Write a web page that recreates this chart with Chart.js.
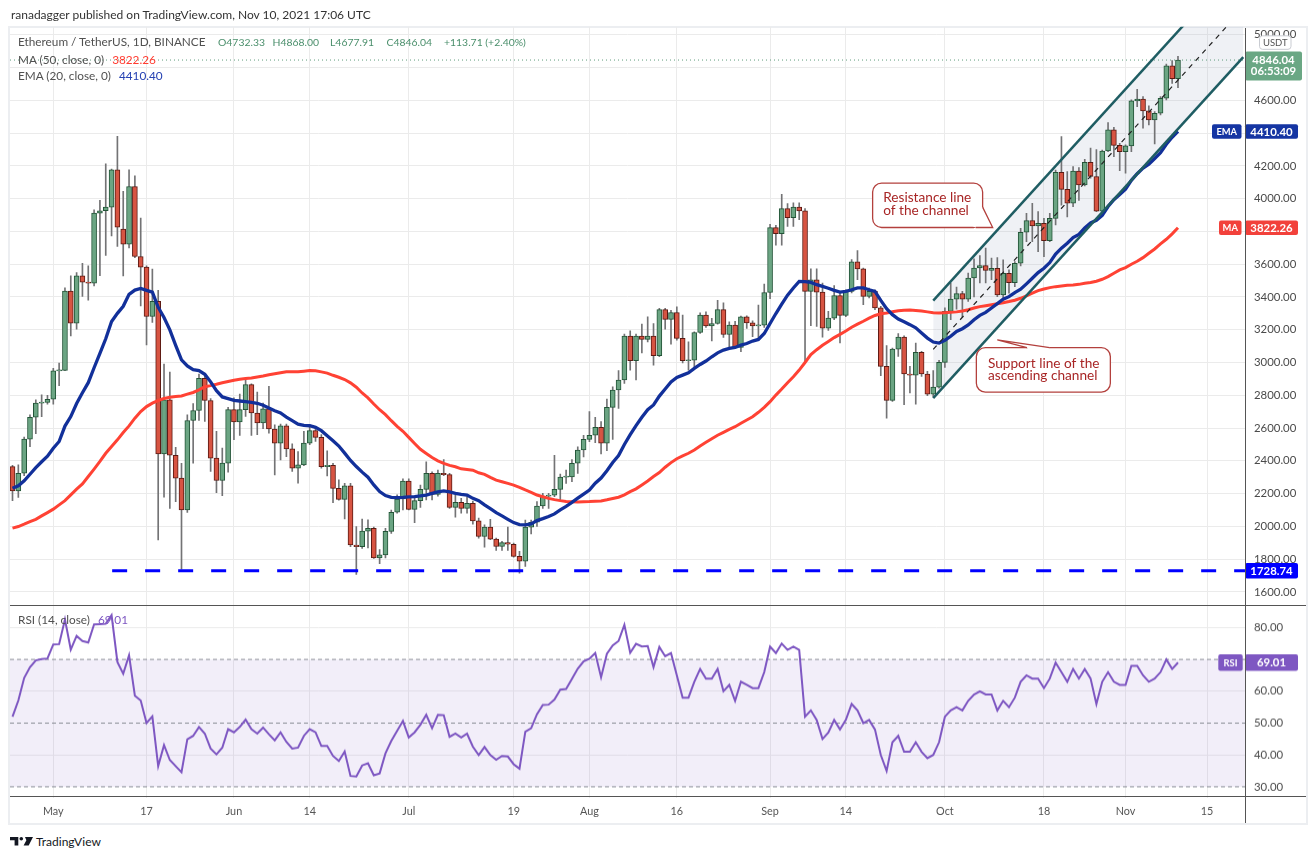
<!DOCTYPE html>
<html lang="en">
<head>
<meta charset="utf-8">
<title>Ethereum / TetherUS, 1D, BINANCE</title>
<script src="https://cdn.jsdelivr.net/npm/chart.js@4.4.1/dist/chart.umd.min.js"></script>
<style>
  html, body { margin:0; padding:0; background:#fff; }
  body { width:1316px; height:860px; position:relative; overflow:hidden; font-family: Lato, "Open Sans", sans-serif; }
  #frame { position:absolute; left:8px; top:26px; width:1300px; height:799px; box-sizing:border-box; border:2px solid #eceef1; }
  #priceBox { position:absolute; left:0; top:17px; width:1316px; height:599px; z-index:1; }
  #rsiBox { position:absolute; left:0; top:596px; width:1316px; height:228px; z-index:1; }
  .sep { position:absolute; background:#555; z-index:2; }
  .txt { position:absolute; white-space:nowrap; z-index:3; line-height:16px; height:16px; }
  .leg { color:#505050; font-size:13px; }
  .ohlc { color:#4b8f6c; }
</style>
</head>
<body>
<div id="frame"></div>
<div id="header" class="txt" style="left:11px;top:7px;color:#333;font-size:13px;">ranadagger published on TradingView.com, Nov 10, 2021 17:06 UTC</div>

<div id="priceBox"><canvas id="priceChart"></canvas></div>
<div id="rsiBox"><canvas id="rsiChart"></canvas></div>

<div class="sep" style="left:10px;top:605px;width:1296px;height:1px;"></div>
<div class="sep" style="left:10px;top:796px;width:1296px;height:1px;"></div>
<div class="sep" style="left:1244.5px;top:28px;width:1px;height:795px;"></div>

<div id="lg0" class="txt leg" style="left:18px;top:34px;">Ethereum / TetherUS, 1D, BINANCE</div>
<div id="lgO" class="txt leg ohlc" style="left:218px;top:34px;">O4732.33</div>
<div class="txt leg ohlc" style="left:272.5px;top:34px;">H4868.00</div>
<div class="txt leg ohlc" style="left:330px;top:34px;">L4677.91</div>
<div class="txt leg ohlc" style="left:386.5px;top:34px;">C4846.04</div>
<div class="txt leg ohlc" style="left:444px;top:34px;">+113.71 (+2.40%)</div>
<div class="txt leg" style="left:18px;top:52px;">MA (50, close, 0)<span style="color:#ff3b30;margin-left:8px;">3822.26</span></div>
<div class="txt leg" style="left:18px;top:68px;">EMA (20, close, 0)<span style="color:#2541b2;margin-left:8px;">4410.40</span></div>
<div class="txt leg" style="left:18px;top:612px;">RSI (14, close)<span style="color:#7e57c2;margin-left:8px;">69.01</span></div>

<svg style="position:absolute;left:10px;top:837px;" width="24" height="9" viewBox="0 0 24 9">
  <path d="M0 0H8.3V8.6H4.6V3.3H0Z" fill="#131722"/>
  <circle cx="11.3" cy="1.8" r="1.8" fill="#131722"/>
  <path d="M15 0H23L18.7 8.6H13.6L16.4 3.3Z" fill="#131722"/>
</svg>
<div id="tvText" class="txt" style="left:36px;top:834px;font-size:15px;color:#131722;">TradingView</div>

<script>
// ---------------- data ----------------
const startDate = '2021-04-24';   // first candle, daily bars through 2021-11-10

const opens = [
  2365,2216,2324,2532,2666,2752,2756,2776,2949,2952,
  3436,3240,3529,3490,3484,3912,3926,3948,4176,3814,
  3722,4074,3647,3582,3281,3373,2442,2772,2434,2294,
  2101,2646,2707,2904,2768,2416,2280,2386,2712,2637,
  2712,2865,2692,2631,2718,2594,2508,2614,2473,2355,
  2375,2508,2584,2543,2365,2373,2232,2165,2247,1886,
  1876,1971,1988,1808,1826,1969,2086,2167,2277,2104,
  2157,2226,2323,2195,2323,2316,2116,2147,2110,2141,
  2033,1938,1995,1922,1877,1901,1891,1817,1787,1995,
  2025,2124,2185,2190,2226,2300,2302,2385,2466,2531,
  2556,2604,2507,2726,2832,2893,3161,3011,3161,3141,
  3161,3041,3323,3263,3305,3147,3011,3015,3183,3289,
  3224,3238,3323,3171,3228,3092,3279,3242,3224,3228,
  3427,3823,3787,3939,3884,3949,3925,3434,3505,3430,
  3210,3271,3408,3288,3434,3615,3571,3404,3434,3333,
  2976,2769,3082,3155,2930,2922,3062,2930,2807,2850,
  3001,3312,3387,3420,3387,3516,3577,3591,3562,3575,
  3412,3545,3488,3606,3795,3866,3834,3850,3744,3880,
  4161,4057,3972,4169,4084,4222,4135,3924,4291,4420,
  4325,4287,4322,4597,4607,4536,4481,4521,4613,4810,
  4732.33
];
const highs = [
  2372,2375,2545,2680,2772,2802,2800,2965,2996,3456,
  3529,3549,3606,3590,3932,3990,4213,4180,4380,4044,
  4176,4140,3881,3590,3570,3440,2990,2941,2483,2385,
  2680,2750,2930,2930,2780,2580,2478,2727,2784,2808,
  2896,2870,2820,2753,2855,2620,2624,2624,2504,2457,
  2580,2620,2610,2560,2461,2385,2284,2263,2263,1998,
  2045,2040,1996,1859,1988,2100,2192,2290,2290,2181,
  2252,2394,2333,2343,2408,2323,2190,2171,2181,2155,
  2050,2009,2043,1928,1908,1995,1898,1847,2039,2039,
  2151,2201,2201,2434,2319,2343,2408,2485,2556,2700,
  2665,2639,2777,2852,2950,3173,3193,3173,3234,3279,
  3238,3330,3330,3319,3340,3289,3126,3187,3303,3309,
  3269,3380,3364,3248,3252,3283,3285,3254,3350,3478,
  3844,3837,4026,3970,3974,3974,3939,3571,3571,3485,
  3312,3469,3434,3444,3628,3683,3577,3455,3444,3343,
  3103,3088,3176,3163,2976,3119,3068,2946,2950,3013,
  3333,3485,3461,3434,3546,3632,3652,3699,3638,3640,
  3626,3565,3616,3819,3911,3972,3921,3880,3911,4175,
  4379,4165,4196,4190,4240,4308,4300,4297,4464,4436,
  4338,4328,4603,4668,4623,4566,4531,4623,4822,4843,
  4868.00
];
const lows = [
  2157,2176,2310,2487,2565,2670,2745,2745,2858,2950,
  3163,3203,3403,3380,3467,3530,3653,3773,3708,3529,
  3700,3640,3346,3108,3244,1917,2178,2110,2151,1738,
  2085,2385,2646,2640,2335,2206,2188,2331,2529,2555,
  2671,2555,2559,2596,2569,2314,2406,2426,2335,2263,
  2370,2498,2518,2355,2308,2145,2160,2045,1876,1706,
  1865,1868,1804,1773,1808,1957,2080,2100,2100,2023,
  2116,2161,2161,2185,2310,2110,2056,2080,2080,2013,
  1928,1873,1918,1853,1853,1853,1812,1715,1756,1954,
  1999,2110,2110,2181,2157,2262,2272,2323,2424,2517,
  2511,2442,2462,2530,2720,2873,2954,2893,3059,3126,
  2984,3035,3204,3112,3137,2998,2954,2974,3177,3214,
  3132,3234,3153,3092,3086,3066,3208,3157,3147,3214,
  3390,3716,3716,3831,3831,3872,3010,3225,3221,3155,
  3196,3261,3119,3280,3424,3505,3353,3394,3322,2919,
  2661,2763,3037,2742,2814,2745,2915,2797,2790,2844,
  2970,3261,3326,3278,3373,3400,3485,3485,3505,3402,
  3392,3423,3463,3589,3738,3738,3677,3646,3738,3840,
  3960,3889,3951,3990,4078,4125,3920,3911,4287,4257,
  4171,4155,4287,4562,4430,4450,4334,4511,4603,4704,
  4677.91
];
const closes = [
  2216,2324,2532,2666,2752,2756,2776,2949,2952,3436,
  3240,3529,3490,3484,3912,3926,3948,4176,3826,3722,
  4074,3647,3582,3281,3373,2442,2772,2434,2294,2101,
  2646,2707,2904,2768,2416,2280,2386,2712,2637,2712,
  2865,2692,2631,2718,2594,2508,2614,2473,2355,2375,
  2508,2584,2543,2365,2373,2232,2165,2247,1886,1876,
  1971,1988,1808,1826,1969,2086,2167,2277,2104,2157,
  2226,2323,2195,2323,2316,2116,2147,2110,2141,2033,
  1938,1995,1922,1877,1901,1891,1817,1787,1995,2025,
  2124,2185,2190,2226,2300,2302,2385,2466,2531,2556,
  2604,2507,2726,2832,2893,3161,3011,3161,3141,3161,
  3041,3323,3263,3305,3147,3011,3015,3183,3289,3224,
  3238,3323,3171,3228,3092,3279,3242,3224,3228,3427,
  3823,3787,3939,3884,3949,3925,3434,3505,3430,3210,
  3271,3408,3288,3434,3615,3571,3404,3434,3333,2976,
  2769,3082,3155,2930,2922,3062,2930,2807,2850,3001,
  3312,3387,3420,3387,3516,3577,3591,3562,3575,3412,
  3545,3488,3606,3795,3866,3834,3850,3744,3880,4161,
  4057,3972,4169,4084,4222,4135,3924,4291,4420,4325,
  4287,4322,4597,4607,4536,4481,4521,4613,4810,4732.33,
  4846.04
];
const ma50 = [
  1989,1999,2013,2029,2043,2064,2084,2105,2131,2157,
  2192,2227,2259,2304,2349,2396,2446,2487,2528,2573,
  2613,2660,2701,2731,2752,2768,2780,2788,2792,2796,
  2807,2817,2833,2852,2859,2867,2876,2884,2892,2898,
  2902,2906,2912,2918,2925,2931,2937,2943,2943,2943,
  2947,2951,2949,2943,2935,2922,2910,2896,2876,2849,
  2814,2784,2747,2712,2682,2645,2610,2580,2543,2506,
  2470,2445,2420,2400,2384,2372,2364,2351,2347,2343,
  2327,2317,2299,2282,2272,2262,2252,2238,2222,2208,
  2191,2181,2171,2163,2157,2152,2150,2149,2150,2151,
  2153,2155,2162,2170,2178,2192,2212,2229,2253,2277,
  2304,2328,2361,2389,2413,2430,2446,2466,2491,2513,
  2535,2556,2574,2592,2608,2629,2649,2669,2696,2726,
  2761,2801,2838,2877,2913,2954,3000,3048,3078,3105,
  3128,3152,3172,3192,3215,3234,3252,3271,3287,3297,
  3302,3310,3316,3319,3320,3318,3314,3309,3304,3302,
  3304,3306,3309,3314,3322,3333,3341,3347,3353,3359,
  3365,3372,3380,3392,3406,3423,3439,3449,3457,3463,
  3467,3471,3473,3477,3484,3488,3496,3508,3524,3545,
  3565,3579,3600,3618,3640,3667,3693,3724,3752,3785,
  3822.26
];
const ema20 = [
  2233,2248,2278,2318,2358,2394,2428,2477,2518,2612,
  2670,2750,2815,2877,2968,3055,3145,3250,3300,3343,
  3416,3442,3452,3440,3430,3337,3275,3199,3105,3016,
  2979,2957,2951,2928,2882,2828,2790,2780,2769,2765,
  2761,2757,2751,2739,2722,2706,2692,2667,2645,2624,
  2616,2614,2604,2584,2553,2522,2490,2447,2402,2365,
  2331,2300,2253,2212,2188,2177,2175,2177,2180,2182,
  2186,2191,2201,2210,2216,2210,2201,2195,2191,2171,
  2157,2131,2108,2084,2064,2043,2023,2011,2009,2015,
  2035,2047,2060,2076,2101,2122,2146,2172,2197,2222,
  2263,2295,2340,2390,2432,2500,2560,2615,2666,2712,
  2741,2795,2838,2881,2909,2923,2937,2964,2988,3009,
  3035,3059,3076,3086,3092,3106,3116,3131,3141,3177,
  3238,3299,3356,3411,3455,3495,3494,3489,3475,3465,
  3453,3440,3430,3434,3444,3455,3455,3444,3434,3379,
  3328,3292,3265,3249,3231,3212,3180,3149,3125,3119,
  3135,3160,3190,3206,3229,3261,3288,3306,3333,3359,
  3386,3402,3427,3447,3480,3514,3549,3575,3610,3662,
  3698,3728,3762,3782,3822,3852,3868,3898,3952,3994,
  4025,4058,4112,4152,4186,4210,4245,4280,4332,4375,
  4410.40
];
const rsi14 = [
  52.0,57.1,64.2,67.6,69.7,70.1,70.3,74.7,74.8,82.6,
  73.1,77.4,75.8,75.3,81.0,81.1,81.2,83.9,69.2,65.5,
  71.3,58.6,57.1,50.0,52.1,36.5,43.1,38.4,36.5,34.6,
  44.9,46.0,48.8,46.7,42.0,40.2,42.3,48.1,47.1,48.8,
  51.1,48.1,46.7,48.6,46.5,44.6,47.1,44.1,42.0,42.3,
  46.0,48.1,47.1,42.8,42.8,39.7,38.1,41.1,33.4,33.2,
  36.7,37.4,33.6,34.2,40.5,44.4,47.6,50.7,45.5,47.1,
  49.5,52.6,48.4,52.6,52.5,45.7,46.7,45.5,46.7,42.6,
  40.0,42.5,40.0,38.5,39.7,39.5,37.1,35.7,47.3,48.4,
  52.8,55.7,55.8,57.4,60.5,60.7,63.9,67.1,69.4,70.2,
  72.0,64.4,71.8,74.4,75.8,80.9,72.1,74.9,74.1,74.2,
  67.6,73.9,71.0,72.0,65.0,58.0,58.0,63.0,67.0,64.0,
  64.0,67.0,60.0,62.0,57.0,63.0,62.0,61.0,61.0,66.0,
  74.0,72.0,75.0,73.0,74.0,73.0,52.0,54.0,51.0,45.0,
  47.0,51.0,48.0,51.0,56.0,54.0,50.0,51.0,48.0,40.0,
  35.0,44.0,46.0,41.0,41.0,44.0,41.0,39.0,40.0,44.0,
  52.0,54.0,55.0,54.0,57.0,59.0,60.0,59.0,59.0,54.0,
  57.0,55.0,58.0,63.0,65.0,64.0,64.0,61.0,64.0,69.0,
  66.0,63.0,67.0,64.0,67.0,64.0,56.0,63.0,66.0,63.0,
  62.0,62.0,68.0,68.0,65.0,63.0,64.0,66.0,70.0,67.0,
  69.01
];

const xTickDays   = [7, 23, 38, 51, 68, 86, 99, 114, 130, 143, 160, 177, 191, 205];
const xTickLabels = ['May','17','Jun','14','Jul','19','Aug','16','Sep','14','Oct','18','Nov','15'];
const priceTicks  = [1600,1800,2000,2200,2400,2600,2800,3000,3200,3400,3600,3800,4000,4200,4400,4600,4800,5000];
const rsiTicks    = [30,40,50,60,70,80];
const rsiBands    = [70,50,30];

const supportLevel = 1728.74;
const supportFrom  = 17.1;      // day index where the drawn level starts
const lastClose    = 4846.04;
const countdown    = '06:53:09';
const maLast = 3822.26, emaLast = 4410.40, rsiLast = 69.01;

// ascending channel drawing (day index, price)
const channelLower = [{x:158, y:2783}, {x:211.2, y:4864}];
const channelUpper = [{x:158, y:3378}, {x:211.2, y:5459}];
const channelMid   = [{x:158, y:3080.5}, {x:211.2, y:5161.5}];

// ---------------- styling / layout ----------------
const X_MIN = -0.43, X_MAX = 211.5;
const UP = '#6ba583', DOWN = '#d75442', UP_B = '#225437', DOWN_B = '#5b1a13', WICK = '#737375';
const GRID = '#ebebeb';
const FONT = 'Lato';
const NOTE_LINE = '#b3403d', NOTE_TEXT = '#a82626';
const PRICE_PANE = { top: 27, bottom: 605.7, refVal: 1800, refPx: 559.3, pxPerUnit: 0.16385 };
const RSI_PANE   = { top: 605.7, bottom: 796.7, refVal: 80, refPx: 627.3, pxPerUnit: 3.17 };

const resistanceNote = { lines:['Resistance line','of the channel'], anchor:[147.6, 4095], w:110, h:44.4,
  tip:[168.2, 3824], base:[[110, 24], [103, 44.4]], textX:10.6, lineY:[15, 27.4] };
const supportNote = { lines:['Support line of the','ascending channel'], anchor:[165.4, 3091], w:134, h:44.6,
  tip:[169.0, 3138], base:[[50.6, 0], [73.3, 0]], textX:11.6, lineY:[15.6, 28.3] };

Chart.defaults.font.family = FONT;

function fitPx(text, target, weight) {
  const c = document.createElement('canvas').getContext('2d');
  c.font = (weight || 'normal') + ' 100px ' + FONT;
  const v = 100 * target / c.measureText(text).width;
  return Math.max(8, Math.min(18, +v.toFixed(2)));
}
const tickPx  = fitPx('4600.00', 42.3);
const xTickPx = fitPx('May', 20.7);
const boxPx   = fitPx('4410.40', 42.3, 'bold');
const tagPx   = fitPx('EMA', 20.7, 'bold');
const usdtPx  = fitPx('USDT', 24.7);
const notePx  = fitPx('Support line of the', 111.7);

function fitEl(el, target) {
  const w = el.getBoundingClientRect().width;
  const fs = parseFloat(getComputedStyle(el).fontSize);
  const n = fs * target / w;
  el.style.fontSize = n + 'px';
  return n;
}
fitEl(document.getElementById('header'), 360);
const legPx = fitEl(document.getElementById('lg0'), 187.7);
document.querySelectorAll('.leg').forEach(e => { e.style.fontSize = legPx + 'px'; });
const ohlcPx = fitEl(document.getElementById('lgO'), 47);
document.querySelectorAll('.ohlc').forEach(e => { e.style.fontSize = ohlcPx + 'px'; });
fitEl(document.getElementById('tvText'), 65);

function rr(ctx, x, y, w, h, r) {
  ctx.beginPath();
  ctx.moveTo(x + r, y);
  ctx.arcTo(x + w, y, x + w, y + h, r);
  ctx.arcTo(x + w, y + h, x, y + h, r);
  ctx.arcTo(x, y + h, x, y, r);
  ctx.arcTo(x, y, x + w, y, r);
  ctx.closePath();
}
function drawCallout(ctx, xs, ys, n) {
  const bx = xs.getPixelForValue(n.anchor[0]), by = ys.getPixelForValue(n.anchor[1]);
  const tx = xs.getPixelForValue(n.tip[0]), ty = ys.getPixelForValue(n.tip[1]);
  const b1 = [bx + n.base[0][0], by + n.base[0][1]], b2 = [bx + n.base[1][0], by + n.base[1][1]];
  ctx.save();
  ctx.lineWidth = 1.3; ctx.strokeStyle = NOTE_LINE; ctx.fillStyle = '#fff';
  rr(ctx, bx, by, n.w, n.h, 9); ctx.fill(); ctx.stroke();
  ctx.beginPath();
  ctx.moveTo(b1[0], b1[1]); ctx.lineTo(tx, ty); ctx.lineTo(b2[0], b2[1]);
  ctx.lineTo(bx + n.w / 2, by + n.h / 2); ctx.closePath(); ctx.fill();
  ctx.beginPath();
  ctx.moveTo(b1[0], b1[1]); ctx.lineTo(tx, ty); ctx.lineTo(b2[0], b2[1]); ctx.stroke();
  ctx.fillStyle = NOTE_TEXT; ctx.font = notePx + 'px ' + FONT;
  ctx.textAlign = 'left'; ctx.textBaseline = 'middle';
  n.lines.forEach((t, i) => ctx.fillText(t, bx + n.textX, by + n.lineY[i]));
  ctx.restore();
}
function tag(ctx, x0, yc, w, h, fill, text, px) {
  ctx.fillStyle = fill;
  rr(ctx, x0, yc - h / 2, w, h, 2); ctx.fill();
  ctx.fillStyle = '#fff'; ctx.font = 'bold ' + px + 'px ' + FONT;
  ctx.textAlign = 'center'; ctx.textBaseline = 'middle';
  ctx.fillText(text, x0 + w / 2, yc + 0.5);
}

const priceOverlay = {
  id: 'priceOverlay',
  afterDraw(chart) {
    const { ctx, chartArea: a, scales: { x, y } } = chart;
    ctx.save();
    drawCallout(ctx, x, y, resistanceNote);
    drawCallout(ctx, x, y, supportNote);
    const R = a.right;
    const yp = y.getPixelForValue(lastClose);
    ctx.fillStyle = '#6aa784';
    rr(ctx, R, yp - 8.5, 57, 29, 2); ctx.fill();
    ctx.fillStyle = '#fff'; ctx.font = 'bold ' + boxPx + 'px ' + FONT;
    ctx.textAlign = 'center'; ctx.textBaseline = 'middle';
    ctx.fillText(lastClose.toFixed(2), R + 28.5, yp + 0.5);
    ctx.fillText(countdown, R + 28.5, yp + 11.5);
    ctx.fillStyle = '#fff'; ctx.strokeStyle = '#c9ccd2'; ctx.lineWidth = 1;
    rr(ctx, R + 14.5, a.top + 9, 31.5, 13.5, 3); ctx.fill(); ctx.stroke();
    ctx.fillStyle = '#555'; ctx.font = usdtPx + 'px ' + FONT;
    ctx.fillText('USDT', R + 30.25, a.top + 16);
    const ye = y.getPixelForValue(emaLast);
    tag(ctx, R - 33, ye, 29.5, 14.5, '#1535a3', 'EMA', tagPx);
    tag(ctx, R, ye, 53, 14.5, '#1535a3', emaLast.toFixed(2), boxPx);
    const ym = y.getPixelForValue(maLast);
    tag(ctx, R - 26, ym, 22.5, 14.5, '#f2413b', 'MA', tagPx);
    tag(ctx, R, ym, 53, 14.5, '#f2413b', maLast.toFixed(2), boxPx);
    const ys = y.getPixelForValue(supportLevel);
    tag(ctx, R, ys, 53, 15.6, '#0000ff', supportLevel.toFixed(2), boxPx);
    ctx.restore();
  }
};
const rsiOverlay = {
  id: 'rsiOverlay',
  afterDraw(chart) {
    const { ctx, chartArea: a, scales: { y } } = chart;
    ctx.save();
    const yr = y.getPixelForValue(rsiLast);
    tag(ctx, a.right - 26.7, yr, 24.4, 16.6, '#7e57c2', 'RSI', tagPx);
    tag(ctx, a.right, yr, 53, 16.6, '#7e57c2', rsiLast.toFixed(2), boxPx);
    ctx.restore();
  }
};

const idx = closes.map((_, i) => i);
const isUp = i => closes[i] >= opens[i];
const hline = v => [{ x: X_MIN, y: v }, { x: X_MAX, y: v }];
const lineBase = { type: 'line', pointRadius: 0, tension: 0, fill: false };

const commonX = {
  type: 'linear', min: X_MIN, max: X_MAX, offset: false,
  afterBuildTicks: s => { s.ticks = xTickDays.map(v => ({ value: v })); },
  grid: { color: GRID, drawTicks: false, offset: false },
  border: { display: false }
};

const priceChart = new Chart(document.getElementById('priceChart'), {
  type: 'line',
  data: {
    datasets: [
      Object.assign({}, lineBase, { data: channelUpper, borderWidth: 0, fill: 1, backgroundColor: 'rgba(150,162,185,0.15)', order: 100 }),
      Object.assign({}, lineBase, { data: channelLower, borderWidth: 0, order: 101 }),
      Object.assign({}, lineBase, { data: hline(lastClose), borderColor: '#5e9c7c', borderWidth: 1, borderDash: [1, 3], order: 90 }),
      { type: 'bar', data: idx.map(i => ({ x: i, y: [lows[i], highs[i]] })), backgroundColor: WICK,
        grouped: false, categoryPercentage: 1, barPercentage: 1, maxBarThickness: 1, order: 50 },
      { type: 'bar', data: idx.map(i => ({ x: i, y: [opens[i], closes[i]] })),
        backgroundColor: c => isUp(c.dataIndex) ? UP : DOWN,
        borderColor: c => isUp(c.dataIndex) ? UP_B : DOWN_B,
        borderWidth: 1, borderSkipped: false, minBarLength: 1,
        grouped: false, categoryPercentage: 1, barPercentage: 1, maxBarThickness: 5, order: 49 },
      Object.assign({}, lineBase, { data: idx.map(i => ({ x: i, y: ma50[i] })), borderColor: '#ff4234', borderWidth: 3, order: 20 }),
      Object.assign({}, lineBase, { data: idx.map(i => ({ x: i, y: ema20[i] })), borderColor: '#12309a', borderWidth: 3.3, order: 19 }),
      Object.assign({}, lineBase, { data: [{ x: supportFrom, y: supportLevel }, { x: X_MAX, y: supportLevel }], borderColor: '#0000ff', borderWidth: 3, borderDash: [15, 18], order: 10 }),
      Object.assign({}, lineBase, { data: channelUpper, borderColor: '#1f5d63', borderWidth: 2.5, order: 5 }),
      Object.assign({}, lineBase, { data: channelLower, borderColor: '#1f5d63', borderWidth: 2.5, order: 5 }),
      Object.assign({}, lineBase, { data: channelMid, borderColor: '#222', borderWidth: 1.2, borderDash: [5, 5], order: 6 })
    ]
  },
  options: {
    animation: false, responsive: true, maintainAspectRatio: false, events: [],
    layout: { padding: { left: 10, right: 0, top: 10, bottom: 10 } },
    plugins: { legend: { display: false }, tooltip: { enabled: false } },
    scales: {
      x: Object.assign({}, commonX, { ticks: { display: false } }),
      y: {
        type: 'linear', position: 'right', min: 1517, max: 5049,
        afterBuildTicks: s => { s.ticks = priceTicks.map(v => ({ value: v })); },
        afterFit: s => { s.width = 71; },
        ticks: { callback: v => Number(v).toFixed(2), color: '#4a4a4a', font: { size: tickPx }, padding: 9 },
        grid: { color: GRID, drawTicks: false },
        border: { display: false }
      }
    }
  },
  plugins: [priceOverlay]
});

const rsiChart = new Chart(document.getElementById('rsiChart'), {
  type: 'line',
  data: {
    datasets: [
      Object.assign({}, lineBase, { data: hline(70), borderWidth: 0, fill: 1, backgroundColor: 'rgba(126,87,194,0.1)', order: 100 }),
      Object.assign({}, lineBase, { data: hline(30), borderWidth: 0, order: 101 }),
      ...rsiBands.map(v => Object.assign({}, lineBase, { data: hline(v), borderColor: '#8a8d96', borderWidth: 1, borderDash: [4, 3], order: 50 })),
      Object.assign({}, lineBase, { data: idx.map(i => ({ x: i, y: rsi14[i] })), borderColor: '#7e57c2', borderWidth: 2, order: 1 })
    ]
  },
  options: {
    animation: false, responsive: true, maintainAspectRatio: false, events: [],
    layout: { padding: { left: 10, right: 0, top: 10, bottom: 0 } },
    plugins: { legend: { display: false }, tooltip: { enabled: false } },
    scales: {
      x: Object.assign({}, commonX, {
        afterFit: s => { s.height = 27; },
        ticks: {
          callback: v => { const k = xTickDays.indexOf(v); return k >= 0 ? xTickLabels[k] : ''; },
          color: '#555', font: { size: xTickPx }, padding: 7, maxRotation: 0, autoSkip: false
        }
      }),
      y: {
        type: 'linear', position: 'right', min: 26.6, max: 86.8,
        afterBuildTicks: s => { s.ticks = rsiTicks.map(v => ({ value: v })); },
        afterFit: s => { s.width = 71; },
        ticks: { callback: v => Number(v).toFixed(2), color: '#4a4a4a', font: { size: tickPx }, padding: 9 },
        grid: { color: c => (c.tick && rsiBands.includes(c.tick.value)) ? 'rgba(0,0,0,0)' : GRID, drawTicks: false },
        border: { display: false }
      }
    }
  },
  plugins: [rsiOverlay]
});

function calibrate(chart, box, pane) {
  const top0 = parseFloat(getComputedStyle(box).top), h0 = parseFloat(getComputedStyle(box).height);
  const a0 = chart.chartArea;
  const dt = (top0 + a0.top) - pane.top;
  const db = pane.bottom - (top0 + a0.bottom);
  box.style.top = (top0 - dt) + 'px';
  box.style.height = (h0 + dt + db) + 'px';
  chart.resize();
  const top1 = parseFloat(getComputedStyle(box).top);
  const a = chart.chartArea;
  const T = top1 + a.top, B = top1 + a.bottom;
  chart.options.scales.y.max = pane.refVal + (pane.refPx - T) / pane.pxPerUnit;
  chart.options.scales.y.min = pane.refVal - (B - pane.refPx) / pane.pxPerUnit;
  chart.update('none');
}
calibrate(priceChart, document.getElementById('priceBox'), PRICE_PANE);
calibrate(rsiChart, document.getElementById('rsiBox'), RSI_PANE);
</script>
</body>
</html>
